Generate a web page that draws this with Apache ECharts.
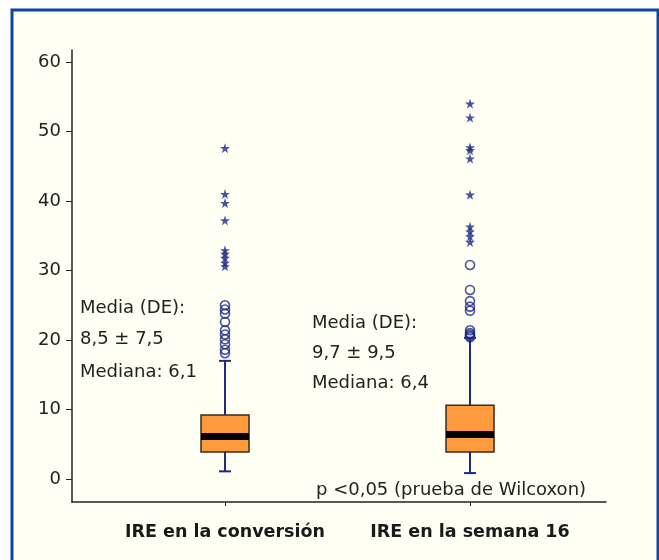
<!DOCTYPE html>
<html>
<head>
<meta charset="utf-8">
<script src="https://cdn.jsdelivr.net/npm/echarts@6/dist/echarts.min.js"></script>
<style>
  html, body { margin: 0; padding: 0; background: #ffffff; }
  #chart { width: 659px; height: 560px; }
</style>
</head>
<body>
<div id="chart"></div>
<script>
// Categories and box statistics (IRE)
const categories = ['IRE en la conversión', 'IRE en la semana 16'];
const whiskerLow = [1.1, 0.85];
const quartile1 = [3.9, 3.9];
const medians = [6.1, 6.4];
const quartile3 = [9.2, 10.6];
const whiskerHigh = [17.0, 20.3];

// Outliers: circles (moderate) and stars (extreme)
const circlesConversion = [25.0, 24.4, 23.8, 22.6, 21.4, 20.8, 20.1, 19.4, 18.6, 18.1];
const starsConversion = [47.6, 41.0, 39.7, 37.2, 32.9, 32.4, 31.8, 31.1, 30.6];
const circlesWeek16 = [30.8, 27.2, 25.6, 24.8, 24.2, 21.4, 21.0, 20.8, 20.6, 20.4];
const starsWeek16 = [54.0, 52.0, 47.7, 47.3, 46.1, 40.9, 36.3, 35.6, 34.9, 34.1];

const yTicks = [0, 10, 20, 30, 40, 50, 60];

// Annotation texts
const statsLeft = ['Media (DE):', '8,5 ± 7,5', 'Mediana: 6,1'];
const statsRight = ['Media (DE):', '9,7 ± 9,5', 'Mediana: 6,4'];
const testNote = 'p <0,05 (prueba de Wilcoxon)';

const NAVY = '#1d2b86';
const FONT = '"DejaVu Sans", "Open Sans", sans-serif';
const STAR = 'path://M50,0 L61.8,35.1 L98.1,35.1 L68.8,56.7 L79.4,91.5 L50,70 L20.6,91.5 L31.2,56.7 L1.9,35.1 L38.2,35.1 Z';

const boxData = categories.map((c, i) => [i, whiskerLow[i], quartile1[i], medians[i], quartile3[i], whiskerHigh[i]]);
const toPoints = (idx, arr) => arr.map(v => [idx, v]);

const chart = echarts.init(document.getElementById('chart'), null, { renderer: 'canvas' });

function renderBox(params, api) {
  const x = api.value(0);
  const pLow = api.coord([x, api.value(1)]);
  const pQ1 = api.coord([x, api.value(2)]);
  const pMed = api.coord([x, api.value(3)]);
  const pQ3 = api.coord([x, api.value(4)]);
  const pHigh = api.coord([x, api.value(5)]);
  const cx = pQ1[0];
  const halfBox = 24;
  const halfCap = 6;
  return {
    type: 'group',
    children: [
      { type: 'line', shape: { x1: cx, y1: pQ3[1], x2: cx, y2: pHigh[1] }, style: { stroke: NAVY, lineWidth: 2 } },
      { type: 'line', shape: { x1: cx - halfCap, y1: pHigh[1], x2: cx + halfCap, y2: pHigh[1] }, style: { stroke: NAVY, lineWidth: 2 } },
      { type: 'line', shape: { x1: cx, y1: pQ1[1], x2: cx, y2: pLow[1] }, style: { stroke: NAVY, lineWidth: 2 } },
      { type: 'line', shape: { x1: cx - halfCap, y1: pLow[1], x2: cx + halfCap, y2: pLow[1] }, style: { stroke: NAVY, lineWidth: 2 } },
      { type: 'rect', shape: { x: cx - halfBox, y: pQ3[1], width: halfBox * 2, height: pQ1[1] - pQ3[1] },
        style: { fill: '#ff9a3d', stroke: '#3a2a20', lineWidth: 1.5 } },
      { type: 'rect', shape: { x: cx - halfBox, y: pMed[1] - 3.5, width: halfBox * 2, height: 7 },
        style: { fill: '#000000' } }
    ]
  };
}

const textItem = (text, x, yCenter) => ({
  type: 'text', x: x, y: yCenter,
  style: { text: text, font: '18px ' + FONT, fill: '#222222', verticalAlign: 'middle', align: 'left' }
});

chart.setOption({
  backgroundColor: '#ffffff',
  animation: false,
  graphic: [
    { type: 'rect', shape: { x: 12, y: 10, width: 646, height: 560 },
      style: { fill: '#fffff3', stroke: '#1144a0', lineWidth: 3 }, z: -10 },
    textItem(statsLeft[0], 80, 308),
    textItem(statsLeft[1], 80, 339),
    textItem(statsLeft[2], 80, 372),
    textItem(statsRight[0], 312, 323),
    textItem(statsRight[1], 312, 353),
    textItem(statsRight[2], 312, 383),
    textItem(testNote, 316, 490)
  ],
  grid: { left: 72, right: 53, top: 50, bottom: 58 },
  xAxis: {
    type: 'value',
    min: -0.6245,
    max: 1.555,
    splitLine: { show: false },
    axisLine: { show: true, onZero: false, lineStyle: { color: '#222', width: 1.5 } },
    axisTick: { show: true, length: 4, customValues: [0, 1], lineStyle: { color: '#222' } },
    axisLabel: {
      customValues: [0, 1],
      formatter: v => categories[Math.round(v)],
      fontFamily: FONT, fontSize: 17.5, fontWeight: 'bold', color: '#1a1a1a', margin: 21
    }
  },
  yAxis: {
    type: 'value',
    min: -3.31,
    max: 61.73,
    splitLine: { show: false },
    axisLine: { show: true, onZero: false, lineStyle: { color: '#222', width: 1.5 } },
    axisTick: { show: true, length: 6, customValues: yTicks, lineStyle: { color: '#222' } },
    axisLabel: { customValues: yTicks, fontFamily: FONT, fontSize: 18, color: '#222', margin: 11 }
  },
  series: [
    { type: 'custom', renderItem: renderBox, data: boxData, encode: { x: 0, y: [1, 2, 3, 4, 5] }, z: 2 },
    { type: 'scatter', symbol: 'circle', symbolSize: 9, z: 3,
      itemStyle: { color: 'rgba(0,0,0,0)', borderColor: NAVY, borderWidth: 1.6 },
      data: toPoints(0, circlesConversion).concat(toPoints(1, circlesWeek16)) },
    { type: 'scatter', symbol: STAR, symbolSize: 10, z: 3,
      itemStyle: { color: NAVY },
      data: toPoints(0, starsConversion).concat(toPoints(1, starsWeek16)) }
  ]
});
</script>
</body>
</html>
